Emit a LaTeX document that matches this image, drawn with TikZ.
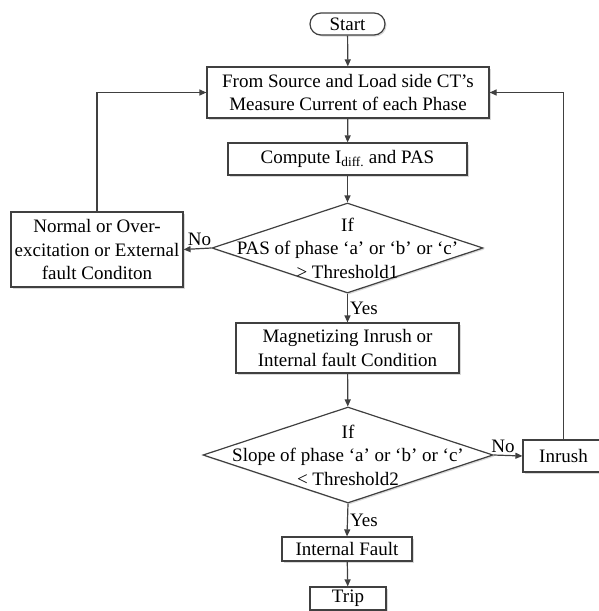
\documentclass[tikz,border=0pt]{standalone}
\usepackage{fontspec}
\setmainfont{Liberation Serif}
\usepackage{tikz}
\usetikzlibrary{positioning,arrows.meta,shapes.geometric,shadows}

\definecolor{linegray}{HTML}{404040}

\begin{document}
\begin{tikzpicture}[x=1pt, y=-1pt,
    every node/.style={font=\fontsize{19}{23.5}\selectfont},
    box/.style={draw=linegray, line width=1.2pt, fill=white, align=center, inner sep=0pt,
        drop shadow={shadow xshift=1.5pt, shadow yshift=-1.5pt, opacity=0.3}},
    pill/.style={box, rounded corners=11pt},
    cond/.style={box, diamond},
    flow/.style={draw=linegray, line width=1.2pt, -{Triangle[length=7pt,width=6pt]}},
    tag/.style={inner sep=2pt}]
    % 
    \useasboundingbox (0,0) rectangle (598,611);

    % 
    \node[pill, minimum width=75pt, minimum height=22pt] (start) at (347.5,24) {Start};
    \node[box, minimum width=282pt, minimum height=51pt] (meas) at (348,92.5)
        {From Source and Load side CT’s\\Measure Current of each Phase};
    \node[box, minimum width=239pt, minimum height=32pt] (comp) at (347.5,159)
        {Compute I\textsubscript{diff.} and PAS};

    % 
    \node[cond, minimum width=271pt, minimum height=90pt] (dec1) at (347.5,248) {};
    \node[align=center] (dec1txt) at (dec1) {If\\PAS of phase `a' or `b' or `c'\\> Threshold1};
    \node[box, minimum width=172pt, minimum height=75pt] (norm) at (97,249.5)
        {Normal or Over-\\excitation or External\\fault Conditon};

    % 
    \node[box, minimum width=223pt, minimum height=50pt] (magn) at (347.5,348)
        {Magnetizing Inrush or\\Internal fault Condition};

    % 
    \node[cond, minimum width=290pt, minimum height=96pt] (dec2) at (348,455) {};
    \node[align=center] (dec2txt) at (dec2) {If\\Slope of phase `a' or `b' or `c'\\< Threshold2};
    \node[box, minimum width=81pt, minimum height=32pt] (inrush) at (563.5,456) {Inrush};

    % 
    \node[box, minimum width=130pt, minimum height=24pt] (intf) at (347,549) {Internal Fault};
    \node[box, minimum width=76pt, minimum height=23pt] (trip) at (348,598.5) {Trip};

    % 
    \foreach \a/\b in {start/meas, meas/comp, comp/dec1, magn/dec2, intf/trip} {
        \draw[flow] (\a) -- (\b);
    }

    % 
    \draw[flow] (dec1.west) -- node[tag, midway, above, xshift=2pt] {No} (norm.east);
    \draw[flow] (dec1.south) -- node[tag, midway, right] {Yes} (magn.north);
    \draw[flow] (dec2.east) -- node[tag, midway, above, xshift=-5pt] {No} (inrush.west);
    \draw[flow] (dec2.south) -- node[tag, midway, right] {Yes} (intf.north);

    % 
    \draw[flow] (norm.north) |- (meas.west);
    \draw[flow] (inrush.north) |- (meas.east);
\end{tikzpicture}
\end{document}
